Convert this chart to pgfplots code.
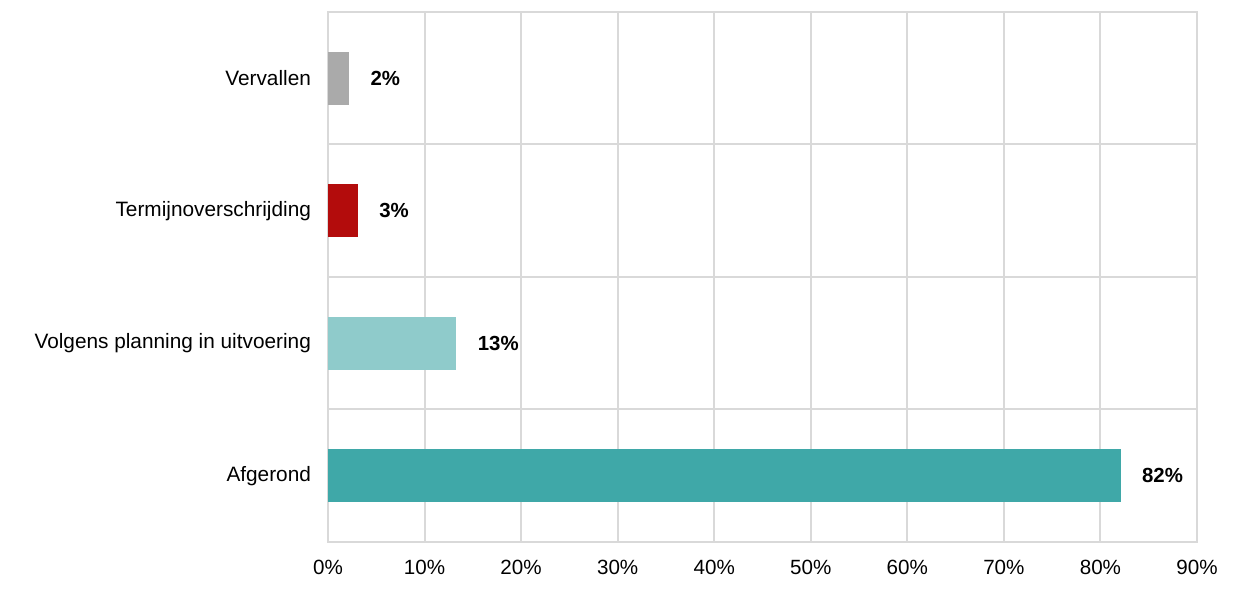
\documentclass[border=0pt]{standalone}
\usepackage{fontspec}
\setmainfont{Liberation Sans}
\usepackage{pgfplots}
\pgfplotsset{compat=1.18}
\definecolor{gridc}{HTML}{D9D9D9}
\definecolor{cgray}{HTML}{AAAAAA}
\definecolor{cred}{HTML}{B30C0C}
\definecolor{clight}{HTML}{8FCBCB}
\definecolor{cteal}{HTML}{3FA8A8}
\begin{document}
\begin{tikzpicture}
\begin{axis}[
  scale only axis,
  width=434.5pt, height=265pt,
  xbar, bar shift=0pt, bar width=0.4,
  xmin=0, xmax=90,
  ymin=-0.5, ymax=3.5,
  xtick={0,10,...,90},
  xticklabels={0\%,10\%,20\%,30\%,40\%,50\%,60\%,70\%,80\%,90\%},
  ytick={0,1,2,3},
  yticklabels={Afgerond,Volgens planning in uitvoering,Termijnoverschrijding,Vervallen},
  extra y ticks={0.5,1.5,2.5},
  extra y tick labels={},
  extra y tick style={grid=major, major tick length=0pt},
  xmajorgrids,
  major grid style={gridc, line width=1pt},
  axis line style={gridc, line width=1pt},
  major tick length=0pt,
  tick style={draw=none},
  ticklabel style={text=black},
  xticklabel style={yshift=-5.5pt, font=\fontsize{10.3}{12}\selectfont},
  yticklabel style={xshift=-5pt, font=\fontsize{10.4}{12}\selectfont},
  /pgf/number format/assume math mode=true,
  point meta=explicit symbolic,
  nodes near coords,
  nodes near coords style={font=\bfseries\fontsize{10.2}{12}\selectfont, anchor=west, inner sep=0pt, xshift=10.5pt, text=black},
  clip=false,
]
\addplot[fill=cteal, draw=none] coordinates {(82.1,0) [82\%]};
\addplot[fill=clight, draw=none] coordinates {(13.3,1) [13\%]};
\addplot[fill=cred, draw=none] coordinates {(3.1,2) [3\%]};
\addplot[fill=cgray, draw=none] coordinates {(2.2,3) [2\%]};
\end{axis}
\pgfresetboundingbox
\path[use as bounding box] ([xshift=-164pt,yshift=-24.5pt]current axis.south west) rectangle ([xshift=21.5pt,yshift=6pt]current axis.north east);
\end{tikzpicture}
\end{document}
